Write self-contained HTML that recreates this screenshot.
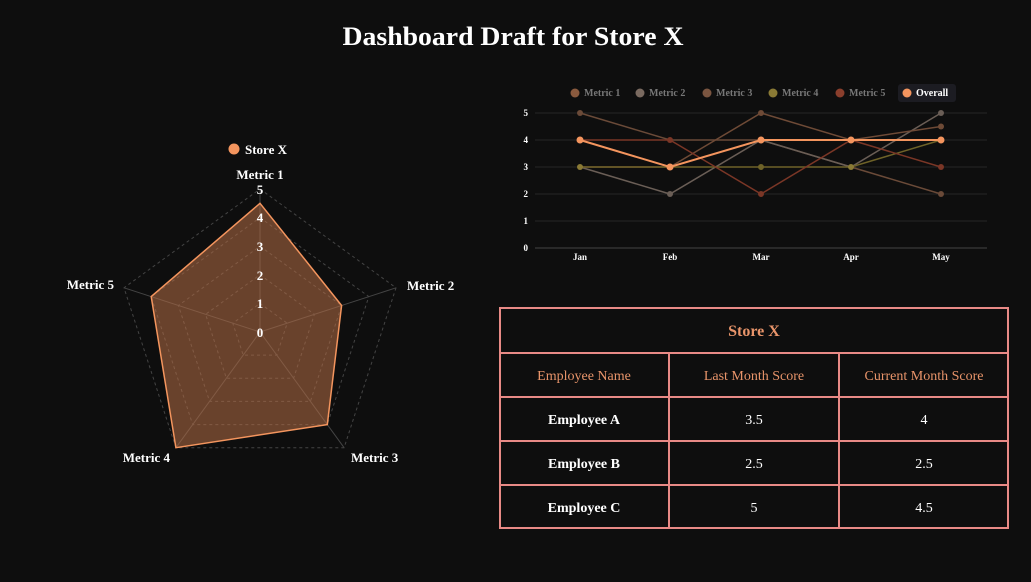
<!DOCTYPE html>
<html><head><meta charset="utf-8"><style>
html,body{margin:0;padding:0;background:#0e0e0e;}
svg{display:block;font-family:"Liberation Serif","DejaVu Serif",serif;}
</style></head><body>
<svg width="1031" height="582" viewBox="0 0 1031 582" xmlns="http://www.w3.org/2000/svg">
<rect width="1031" height="582" fill="#0e0e0e"/>
<text x="513" y="45" text-anchor="middle" font-size="26" font-weight="bold" fill="#fff" textLength="341" lengthAdjust="spacingAndGlyphs">Dashboard Draft for Store X</text>

<!-- Radar -->
<circle cx="234" cy="149" r="5.5" fill="#f4955e"/>
<text x="245" y="154" font-size="13" font-weight="bold" fill="#fff">Store X</text>
<g fill="none" stroke="#444" stroke-dasharray="3,3" stroke-width="1">
<polygon points="260,303.4 287.2,323.2 276.8,355.1 243.2,355.1 232.8,323.2"/>
<polygon points="260,274.8 314.4,314.3 293.6,378.3 226.4,378.3 205.6,314.3"/>
<polygon points="260,246.2 341.6,305.5 310.4,401.4 209.6,401.4 178.4,305.5"/>
<polygon points="260,217.6 368.8,296.6 327.3,424.6 192.7,424.6 151.2,296.6"/>
<polygon points="260,189 396,287.8 344.1,447.7 175.9,447.7 124,287.8"/>
</g>
<g stroke="#444" stroke-width="1">
<line x1="260" y1="332" x2="260" y2="189"/><line x1="260" y1="332" x2="396" y2="287.8"/>
<line x1="260" y1="332" x2="344.1" y2="447.7"/><line x1="260" y1="332" x2="175.9" y2="447.7"/>
<line x1="260" y1="332" x2="124" y2="287.8"/>
</g>
<polygon points="260,203.3 341.6,305.5 327.3,424.6 175.9,447.7 151.2,296.6" fill="rgba(180,110,70,0.55)" stroke="#f4955e" stroke-width="1.5"/>
<g font-size="13" font-weight="bold" fill="#fff" text-anchor="middle">
<text x="260" y="337">0</text><text x="260" y="308">1</text><text x="260" y="280">2</text>
<text x="260" y="251">3</text><text x="260" y="222">4</text><text x="260" y="194">5</text>
</g>
<g font-size="13" font-weight="bold" fill="#fff">
<text x="260" y="179" text-anchor="middle">Metric 1</text>
<text x="407" y="290">Metric 2</text>
<text x="351" y="462">Metric 3</text>
<text x="170" y="462" text-anchor="end">Metric 4</text>
<text x="114" y="289" text-anchor="end">Metric 5</text>
</g>

<!-- Line chart -->
<rect x="898" y="84" width="58" height="18" rx="3" fill="#1c1c22"/>
<g font-size="10" font-weight="bold">
<circle cx="575" cy="93" r="4.5" fill="#8a5a3e"/><text x="584" y="96" fill="#777">Metric 1</text>
<circle cx="640" cy="93" r="4.5" fill="#7a6a60"/><text x="649" y="96" fill="#777">Metric 2</text>
<circle cx="707" cy="93" r="4.5" fill="#7a5540"/><text x="716" y="96" fill="#777">Metric 3</text>
<circle cx="773" cy="93" r="4.5" fill="#8a7a35"/><text x="782" y="96" fill="#777">Metric 4</text>
<circle cx="840" cy="93" r="4.5" fill="#8a3e2c"/><text x="849" y="96" fill="#777">Metric 5</text>
<circle cx="907" cy="93" r="4.5" fill="#f4955e"/><text x="916" y="96" fill="#fff">Overall</text>
</g>
<g stroke="#262626" stroke-width="1">
<line x1="535" y1="113" x2="987" y2="113"/><line x1="535" y1="140" x2="987" y2="140"/>
<line x1="535" y1="167" x2="987" y2="167"/><line x1="535" y1="194" x2="987" y2="194"/>
<line x1="535" y1="221" x2="987" y2="221"/>
</g>
<line x1="535" y1="248" x2="987" y2="248" stroke="#444"/>
<g font-size="9" font-weight="bold" fill="#fff">
<g text-anchor="end"><text x="528" y="116">5</text><text x="528" y="143">4</text><text x="528" y="170">3</text><text x="528" y="197">2</text><text x="528" y="224">1</text><text x="528" y="251">0</text></g>
<g text-anchor="middle"><text x="580" y="260">Jan</text><text x="670" y="260">Feb</text><text x="761" y="260">Mar</text><text x="851" y="260">Apr</text><text x="941" y="260">May</text></g>
</g>
<g fill="none" stroke-width="1.5">
<polyline points="580,113 670,140 761,140 851,167 941,194" stroke="#6a4a38"/>
<polyline points="580,167 670,194 761,140 851,167 941,113" stroke="#6a5e56"/>
<polyline points="580,167 670,167 761,113 851,140 941,126.5" stroke="#6e4a36"/>
<polyline points="580,167 670,167 761,167 851,167 941,140" stroke="#6e6228"/>
<polyline points="580,140 670,140 761,194 851,140 941,167" stroke="#7a3626"/>
<polyline points="580,140 670,167 761,140 851,140 941,140" stroke="#f4955e" stroke-width="2"/>
</g>
<g>
<circle cx="580" cy="113" r="3" fill="#6a4a38"/><circle cx="670" cy="194" r="3" fill="#6a5e56"/>
<circle cx="761" cy="113" r="3" fill="#6e4a36"/><circle cx="941" cy="126.5" r="3" fill="#6e4a36"/>
<circle cx="941" cy="113" r="3" fill="#6a5e56"/><circle cx="941" cy="194" r="3" fill="#6a4a38"/>
<circle cx="580" cy="167" r="3" fill="#8a7a35"/><circle cx="761" cy="167" r="3" fill="#6e6228"/>
<circle cx="851" cy="167" r="3" fill="#8a7a35"/><circle cx="761" cy="194" r="3" fill="#7a3626"/>
<circle cx="670" cy="140" r="3" fill="#7a3626"/><circle cx="941" cy="167" r="3" fill="#7a3626"/>
<circle cx="580" cy="140" r="3.5" fill="#f4955e"/><circle cx="670" cy="167" r="3.5" fill="#f4955e"/>
<circle cx="761" cy="140" r="3.5" fill="#f4955e"/><circle cx="851" cy="140" r="3.5" fill="#f4955e"/>
<circle cx="941" cy="140" r="3.5" fill="#f4955e"/>
</g>

<!-- Table -->
<g fill="none" stroke="#e88a86" stroke-width="2">
<rect x="500" y="308" width="508" height="220"/>
<line x1="500" y1="353" x2="1008" y2="353"/><line x1="500" y1="397" x2="1008" y2="397"/>
<line x1="500" y1="441" x2="1008" y2="441"/><line x1="500" y1="485" x2="1008" y2="485"/>
<line x1="669" y1="353" x2="669" y2="528"/><line x1="839" y1="353" x2="839" y2="528"/>
</g>
<text x="754" y="336" text-anchor="middle" font-size="16" font-weight="bold" fill="#e8946a">Store X</text>
<g font-size="14" fill="#e8946a" text-anchor="middle">
<text x="584" y="380">Employee Name</text><text x="754" y="380">Last Month Score</text><text x="924" y="380">Current Month Score</text>
</g>
<g font-size="14" fill="#fff" text-anchor="middle">
<text x="584" y="424" font-weight="bold">Employee A</text><text x="754" y="424">3.5</text><text x="924" y="424">4</text>
<text x="584" y="468" font-weight="bold">Employee B</text><text x="754" y="468">2.5</text><text x="924" y="468">2.5</text>
<text x="584" y="512" font-weight="bold">Employee C</text><text x="754" y="512">5</text><text x="924" y="512">4.5</text>
</g>
</svg>
</body></html>
